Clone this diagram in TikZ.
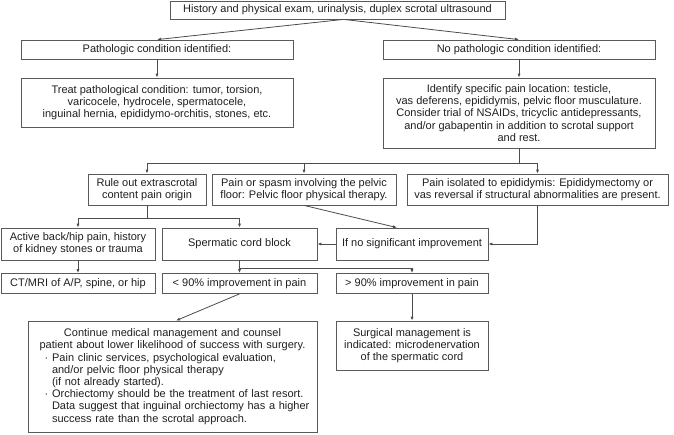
\documentclass[tikz,border=0pt]{standalone}
\usepackage{fontspec}
\setmainfont{Liberation Sans}
\usetikzlibrary{arrows.meta,calc}
\begin{document}
\begin{tikzpicture}[x=1pt,y=-1pt,
  box/.style={draw=black!65, line width=0.8pt, text=black!88, align=center, inner sep=0pt,
    font=\fontsize{11}{12.2}\selectfont},
  arr/.style={draw=black!70, line width=0.8pt, -{Latex[length=4pt,width=3.2pt]}},
  ln/.style={draw=black!70, line width=0.8pt}]
\useasboundingbox (0,0) rectangle (674,434);
% row 0
\node[box, minimum width=335pt, minimum height=18pt] (top) at (337.5,10) {History and physical exam, urinalysis, duplex scrotal ultrasound};
% row 1
\node[box, minimum width=272pt, minimum height=19pt] (path) at (157,49.5) {Pathologic condition identified:};
\node[box, minimum width=272pt, minimum height=19pt] (nopath) at (519,49.5) {No pathologic condition identified:};
% row 2
\node[box, minimum width=272pt, minimum height=49pt] (treat) at (157,102.5) {Treat pathological condition: tumor, torsion,\\varicocele, hydrocele, spermatocele,\\inguinal hernia, epididymo-orchitis, stones, etc.};
\node[box, minimum width=272pt, minimum height=70pt] (ident) at (519,113) {Identify specific pain location: testicle,\\vas deferens, epididymis, pelvic floor musculature.\\Consider trial of NSAIDs, tricyclic antidepressants,\\and/or gabapentin in addition to scrotal support\\and rest.};
% row 3
\node[box, minimum width=118pt, minimum height=31pt] (ruleout) at (147,189.5) {Rule out extrascrotal\\content pain origin};
\node[box, minimum width=184pt, minimum height=31pt] (pelvic) at (304,189.5) {Pain or spasm involving the pelvic\\floor: Pelvic floor physical therapy.};
\node[box, minimum width=261pt, minimum height=31pt] (painiso) at (537.5,189.5) {Pain isolated to epididymis: Epididymectomy or\\vas reversal if structural abnormalities are present.};
% row 4
\node[box, minimum width=154pt, minimum height=32pt] (active) at (78,244) {Active back/hip pain, history\\of kidney stones or trauma};
\node[box, minimum width=155pt, minimum height=32pt] (sperm) at (239.5,244) {Spermatic cord block};
\node[box, minimum width=152pt, minimum height=32pt] (ifno) at (412,244) {If no significant improvement};
% row 5
\node[box, minimum width=154pt, minimum height=20pt] (ct) at (78,283.5) {CT/MRI of A/P, spine, or hip};
\node[box, minimum width=155pt, minimum height=20pt] (lt) at (239.5,283.5) {< 90\% improvement in pain};
\node[box, minimum width=152pt, minimum height=20pt] (gt) at (412,283.5) {> 90\% improvement in pain};
% row 6
\node[box, minimum width=289pt, minimum height=111pt, text width=280pt, align=left] (cont) at (172.5,376.5) {{\centering Continue medical management and counsel\\patient about lower likelihood of success with surgery.\par}
\hspace*{12pt}·\hspace{4pt}Pain clinic services, psychological evaluation,\\
\hspace*{19.5pt}and/or pelvic floor physical therapy\\
\hspace*{19.5pt}(if not already started).\\
\hspace*{12pt}·\hspace{4pt}Orchiectomy should be the treatment of last resort.\\
\hspace*{19.5pt}Data suggest that inguinal orchiectomy has a higher\\
\hspace*{19.5pt}success rate than the scrotal approach.};
\node[box, minimum width=152pt, minimum height=49pt] (surg) at (412,345.5) {Surgical management is\\indicated: microdenervation\\of the spermatic cord};
% connectors
\draw[arr] ([xshift=6pt]top.south) -- (path.north);
\draw[arr] ([xshift=6pt]top.south) -- (nopath.north);
\draw[arr] (path.south) -- (treat.north);
\draw[arr] (nopath.south) -- (ident.north);
\draw[ln] (ident.south) -- ++(0,15) coordinate (b1);
\draw[ln] (b1 -| ruleout.north) -- (b1 -| painiso.north);
\draw[arr] (b1 -| ruleout.north) -- (ruleout.north);
\draw[arr] (b1 -| pelvic.north) -- (pelvic.north);
\draw[arr] (b1 -| painiso.north) -- (painiso.north);
\draw[ln] (ruleout.south) -- ++(0,13) coordinate (b2);
\draw[ln] (b2 -| active.north) -- (b2 -| sperm.north);
\draw[arr] (b2 -| active.north) -- (active.north);
\draw[arr] (b2 -| sperm.north) -- (sperm.north);
\draw[arr] (pelvic.south) -- ([xshift=-15pt]ifno.north);
\draw[arr] (painiso.south) |- (ifno.east);
\draw[arr] (ifno.west) -- (sperm.east);
\draw[arr] (active.south) -- (ct.north);
\draw[ln] (sperm.south) -- ++(0,7.5) coordinate (b3);
\draw[ln] (b3) -- (b3 -| gt.north);
\draw[arr] (b3) -- (lt.north);
\draw[arr] (b3 -| gt.north) -- (gt.north);
\draw[arr] (lt.south) -- ([xshift=3.5pt]cont.north);
\draw[arr] (gt.south) -- (surg.north);
\end{tikzpicture}
\end{document}
